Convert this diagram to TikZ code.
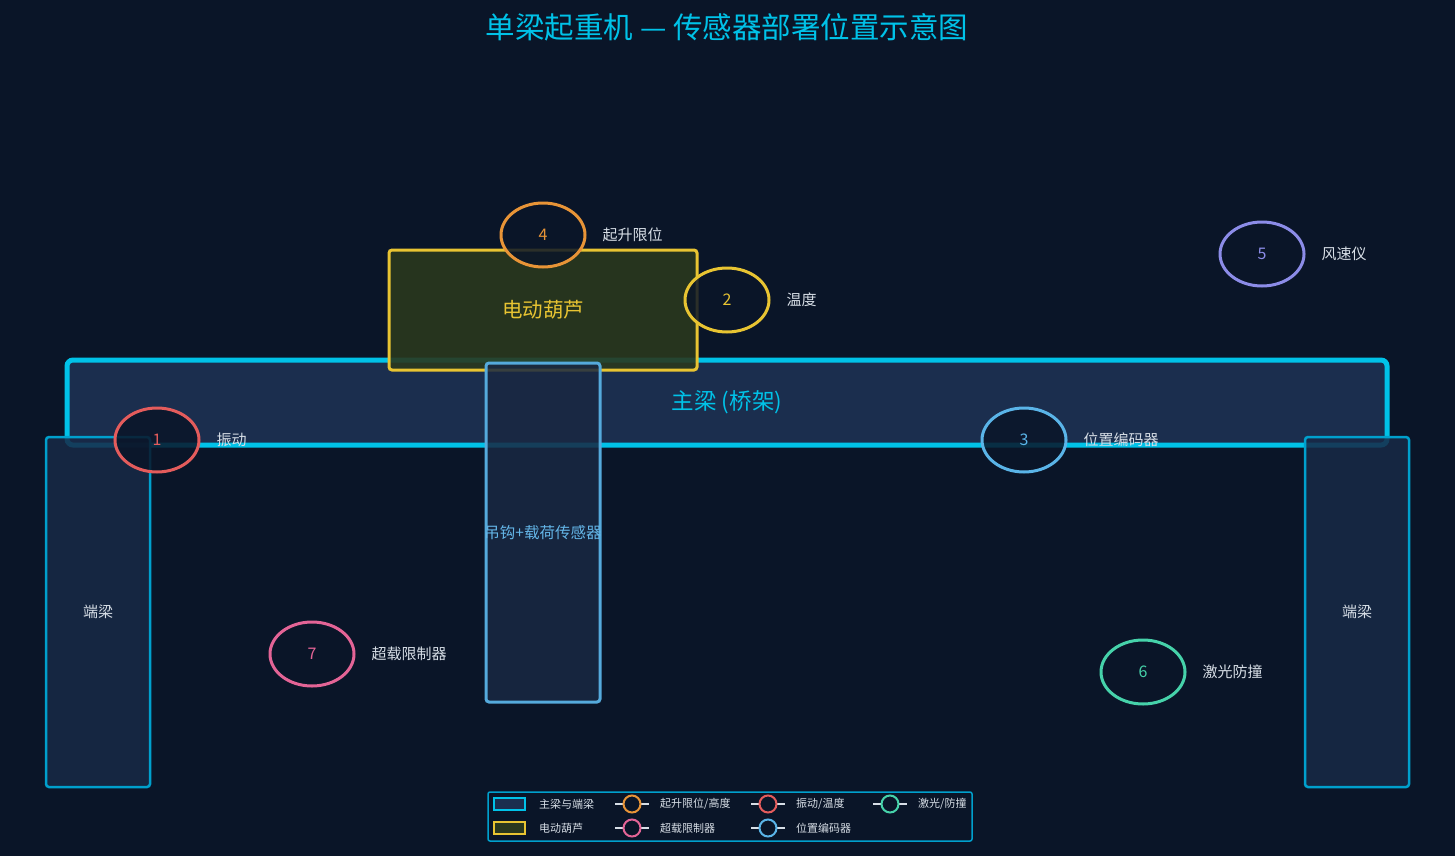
\documentclass[tikz,border=0pt]{standalone}
\usepackage{fontspec}
\setmainfont{Noto Sans CJK SC}
\usepackage{tikz}
\usetikzlibrary{positioning,shapes.geometric}

\definecolor{bgc}{RGB}{10,21,40}
\definecolor{beamc}{RGB}{0,194,232}
\definecolor{beamfill}{RGB}{27,46,78}
\definecolor{endc}{RGB}{0,160,205}
\definecolor{endfill}{RGB}{23,41,70}
\definecolor{hoistc}{RGB}{232,196,50}
\definecolor{hoistfill}{RGB}{42,56,30}
\definecolor{hookc}{RGB}{85,170,220}
\definecolor{hookfill}{RGB}{25,40,66}
\definecolor{hooktxt}{RGB}{100,182,232}
\definecolor{txtc}{RGB}{215,222,230}
\definecolor{redc}{RGB}{228,92,92}
\definecolor{bluec}{RGB}{90,180,232}
\definecolor{orangec}{RGB}{232,148,55}
\definecolor{purplec}{RGB}{140,140,232}
\definecolor{greenc}{RGB}{70,210,170}
\definecolor{pinkc}{RGB}{228,100,150}

\tikzset{
  part/.style={draw, rounded corners=3pt, inner sep=0pt},
  sensor/.style={ellipse, draw=#1, text=#1, line width=3pt, fill=bgc, fill opacity=0.85,
    text opacity=1, minimum width=84pt, minimum height=64pt, inner sep=0pt,
    font=\fontsize{16}{18}\selectfont},
  lbl/.style={text=txtc, font=\fontsize{15}{18}\selectfont, inner sep=0pt, right=16pt of #1},
  legtxt/.style={text=txtc, font=\fontsize{11}{13}\selectfont, anchor=west, inner sep=0pt},
  legbox/.style={draw=#1, line width=2pt, minimum width=31pt, minimum height=12pt, inner sep=0pt},
  legmark/.style={circle, draw=#1, line width=2pt, fill=bgc, minimum size=17pt, inner sep=0pt},
}

\begin{document}
\begin{tikzpicture}[x=1pt, y=-1pt]
\fill[bgc] (0,0) rectangle (1455,856);
\useasboundingbox (0,0) rectangle (1455,856);

\node[text=beamc, font=\fontsize{29.5}{32}\selectfont] (title) at (727,27) {单梁起重机 — 传感器部署位置示意图};

% bridge structure
\node[part, draw=beamc, fill=beamfill, line width=5pt, minimum width=1320pt, minimum height=85pt,
  rounded corners=6pt] (girder) at (727,402.5) {};
\node[text=beamc, font=\fontsize{22.5}{26}\selectfont] (girdertxt) at (727,402) {主梁 (桥架)};
\node[part, draw=endc, fill=endfill, fill opacity=0.85, line width=2.5pt, minimum width=104pt,
  minimum height=350pt] (endL) at (98,612) {};
\node[part, draw=endc, fill=endfill, fill opacity=0.85, line width=2.5pt, minimum width=104pt,
  minimum height=350pt] (endR) at (1357,612) {};
\node[text=txtc, font=\fontsize{15}{18}\selectfont] at (endL) {端梁};
\node[text=txtc, font=\fontsize{15}{18}\selectfont] at (endR) {端梁};

% hoist and hook
\node[part, draw=hoistc, fill=hoistfill, fill opacity=0.9, line width=3pt, minimum width=308pt,
  minimum height=120pt] (hoist) at (543,310) {};
\node[text=hoistc, font=\fontsize{20.5}{24}\selectfont] (hoisttxt) at (hoist) {电动葫芦};
\node[part, draw=hookc, fill=hookfill, fill opacity=0.85, line width=3pt, minimum width=114pt,
  minimum height=339pt] (hook) at (543,532.5) {};
\node[text=hooktxt, font=\fontsize{15.5}{18}\selectfont] (hooktxt) at (hook) {吊钩+载荷传感器};

% sensors
\node[sensor=redc] (s1) at (157,440) {1};
\node[sensor=hoistc] (s2) at (727,300) {2};
\node[sensor=bluec] (s3) at (1024,440) {3};
\node[sensor=orangec] (s4) at (543,235) {4};
\node[sensor=purplec] (s5) at (1262,254) {5};
\node[sensor=greenc] (s6) at (1143,672) {6};
\node[sensor=pinkc] (s7) at (312,654) {7};
\node[lbl=s1] (l1) {振动};
\node[lbl=s2] (l2) {温度};
\node[lbl=s3] (l3) {位置编码器};
\node[lbl=s4] (l4) {起升限位};
\node[lbl=s5] (l5) {风速仪};
\node[lbl=s6] (l6) {激光防撞};
\node[lbl=s7] (l7) {超载限制器};

% legend
\node[draw=endc, line width=1.5pt, fill=bgc, rounded corners=2pt, minimum width=484pt,
  minimum height=49pt, inner sep=0pt] (legend) at (730,816.5) {};
\node[legbox=beamc, fill=beamfill] (k1) at (509.5,804) {};
\node[legbox=hoistc, fill=hoistfill] (k2) at (509.5,828) {};
\node[legtxt] at (539,804) {主梁与端梁};
\node[legtxt] at (539,828) {电动葫芦};
\foreach \c/\x/\y/\t in {orangec/632/804/{起升限位/高度}, redc/768/804/{振动/温度},
    greenc/890/804/{激光/防撞}, pinkc/632/828/{超载限制器}, bluec/768/828/{位置编码器}}{
  \draw[txtc, line width=2pt] (\x-17,\y) -- (\x+17,\y);
  \node[legmark=\c] (m\x\y) at (\x,\y) {};
  \node[legtxt] at (\x+28,\y) {\t};
}
\end{tikzpicture}
\end{document}
